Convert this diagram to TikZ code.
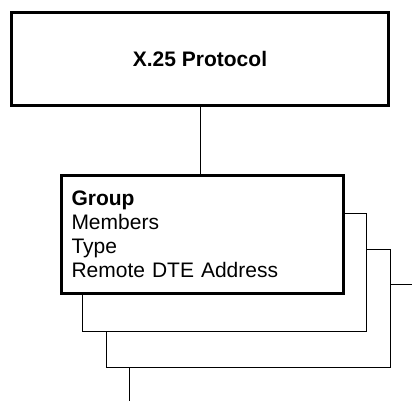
\documentclass[tikz,border=0pt]{standalone}
\usepackage{fontspec}
\setmainfont{Liberation Sans}
\usetikzlibrary{positioning}

\begin{document}
\begin{tikzpicture}[x=1pt, y=-1pt,
    titlebox/.style={draw, line width=3pt, minimum width=377pt, minimum height=93pt, font=\fontsize{21}{24}\selectfont\bfseries},
    groupbox/.style={draw, line width=3pt, fill=white, minimum width=282pt, minimum height=118pt, text width=262pt, align=left, inner xsep=10pt, font=\fontsize{21}{24}\selectfont},
    stackbox/.style={draw, line width=1pt, fill=white, minimum width=284pt, minimum height=118pt},
    link/.style={line width=1pt}]
            \useasboundingbox (0,0) rectangle (412,401);
            \node[titlebox]   (protocol)  at (200,59)       {X.25 Protocol};
            \node[stackbox]   (stackC)    at (248,308)      {};
            \node[stackbox]   (stackB)    at (224.5,272.5)  {};
            \node[groupbox]   (group)     at (202.5,234)    {\textbf{Group}\\Members\\Type\\Remote DTE Address};
            \coordinate (rightend) at (412,284);
            \coordinate (downend)  at (129,401);
            \draw[link] (protocol.south) -- (protocol.south |- group.north);
            \draw[link] (stackC.east |- rightend) -- (rightend);
            \draw[link] (stackC.south -| downend) -- (downend);
        \end{tikzpicture}
\end{document}
